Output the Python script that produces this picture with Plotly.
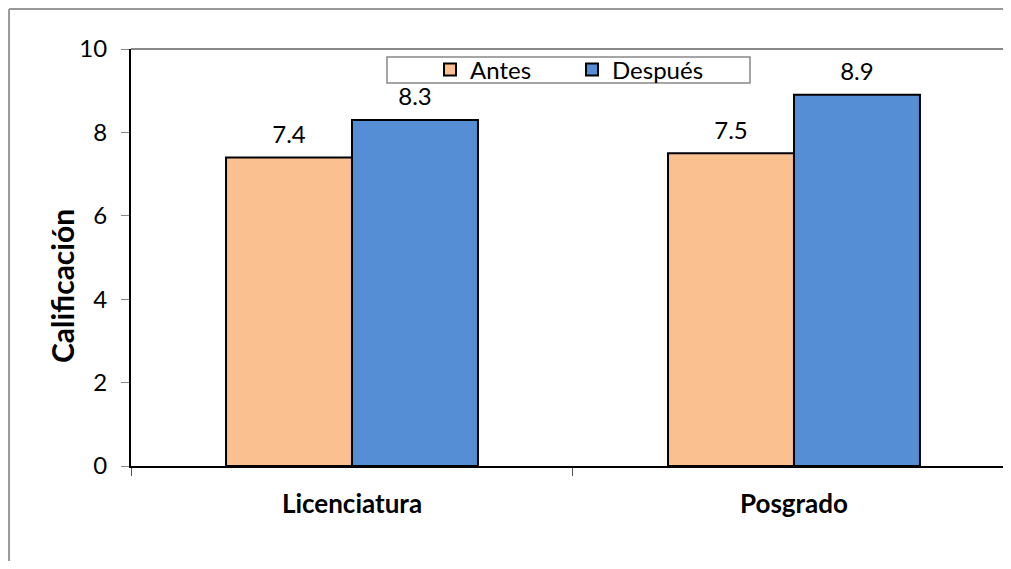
import plotly.graph_objects as go

categories = ["Licenciatura", "Posgrado"]
antes = [7.4, 7.5]
despues = [8.3, 8.9]
series_names = ["Antes", "Después"]
y_ticks = [0, 2, 4, 6, 8, 10]
y_title = "Calificación"

FONT = "Lato, Open Sans, sans-serif"
colors = ["#FAC090", "#558ED5"]

fig = go.Figure()
for name, vals, col in zip(series_names, [antes, despues], colors):
    fig.add_trace(go.Bar(
        x=categories, y=vals, name=name,
        marker=dict(color=col, line=dict(color="black", width=2)),
    ))
for name, vals in zip(series_names, [antes, despues]):
    fig.add_trace(go.Scatter(
        x=categories, y=vals, name=name + " etiqueta", showlegend=False,
        mode="markers+text", text=[f"{v:.1f}" for v in vals],
        textposition="top center", textfont=dict(size=24, color="black"),
        marker=dict(size=12, opacity=0), cliponaxis=False, hoverinfo="skip",
    ))

fig.update_layout(
    width=1003, height=553,
    margin=dict(l=123, r=0, t=41, b=95),
    paper_bgcolor="white", plot_bgcolor="white",
    font=dict(family=FONT, size=24, color="black"),
    barmode="group", bargap=0.43, bargroupgap=0,
    scattermode="group", scattergap=0.43,
    showlegend=True,
    legend=dict(
        orientation="h", x=0.3398, xanchor="left", y=0.9496, yanchor="middle",
        borderwidth=0, bgcolor="rgba(0,0,0,0)",
        font=dict(size=24), entrywidth=97, itemwidth=30,
        tracegroupgap=0, valign="middle",
    ),
    xaxis=dict(
        range=[-0.5, 1.491], showline=True, linecolor="black", linewidth=2,
        ticks="outside", tickson="boundaries", ticklen=8, tickcolor="#555555",
        tickfont=dict(size=26, family=FONT, weight="bold"), showgrid=False,
        ticklabelstandoff=14,
    ),
    yaxis=dict(
        range=[0, 10], tickvals=y_ticks, showline=True, linecolor="black", linewidth=2,
        ticks="outside", ticklen=8, tickcolor="#888888", showgrid=False, zeroline=False,
        tickfont=dict(size=24), ticklabelstandoff=9,
    ),
    annotations=[
        dict(text=y_title, xref="paper", yref="paper", x=-0.0784, y=0.4317,
             textangle=-90, showarrow=False, xanchor="center", yanchor="middle",
             font=dict(size=30, weight="bold", family=FONT)),
    ],
    shapes=[
        dict(type="line", xref="paper", yref="paper", x0=0, x1=1.05, y0=1, y1=1,
             line=dict(color="#888888", width=2), layer="below"),
        dict(type="line", xref="paper", yref="paper", x0=-0.1386, x1=-0.1386, y0=1.0959, y1=-0.3,
             line=dict(color="#999999", width=2)),
        dict(type="line", xref="paper", yref="paper", x0=-0.1386, x1=1.05, y0=1.0959, y1=1.0959,
             line=dict(color="#999999", width=2)),
        dict(type="rect", xref="paper", yref="paper", x0=0.2909, x1=0.7034, y0=0.9185, y1=0.9808,
             line=dict(color="#888888", width=1.5), fillcolor="white", layer="below"),
    ],
)

fig.write_html("out.html")
